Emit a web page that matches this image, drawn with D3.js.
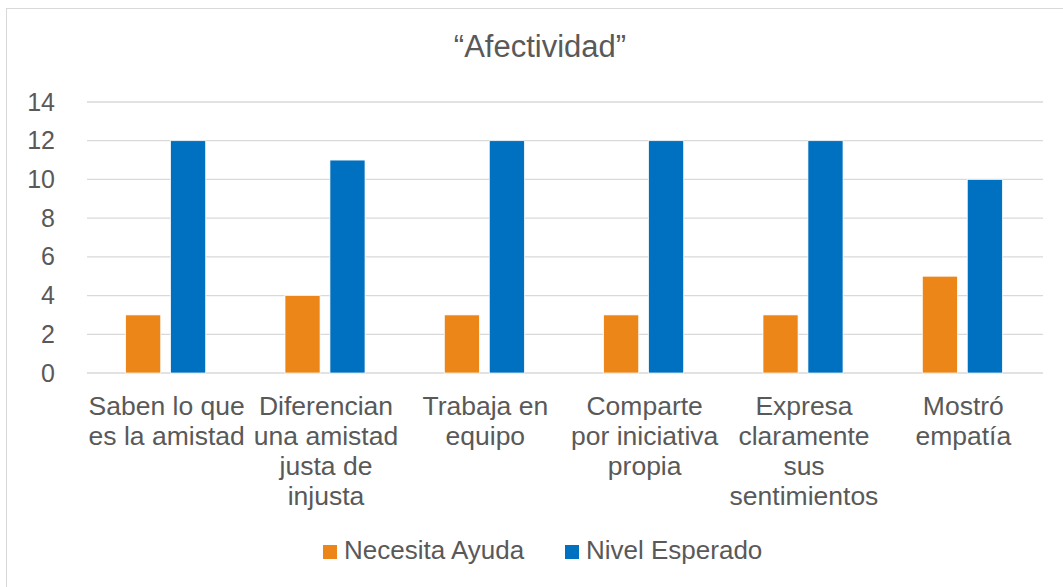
<!DOCTYPE html>
<html>
<head>
<meta charset="utf-8">
<script src="https://cdn.jsdelivr.net/npm/d3@7"></script>
<style>
  body { margin: 0; background: #fff; }
  svg text { font-family: "Liberation Sans", Arial, sans-serif; fill: #595959; }
</style>
</head>
<body>
<div id="chart-area"></div>
<script>
const categories = [
  ["Saben lo que", "es la amistad"],
  ["Diferencian", "una amistad", "justa de", "injusta"],
  ["Trabaja en", "equipo"],
  ["Comparte", "por iniciativa", "propia"],
  ["Expresa", "claramente", "sus", "sentimientos"],
  ["Mostró", "empatía"]
]
const seriesNames = ["Necesita Ayuda", "Nivel Esperado"]
const necesitaAyuda = [3, 4, 3, 3, 3, 5]
const nivelEsperado = [12, 11, 12, 12, 12, 10]
const yTicks = [0, 2, 4, 6, 8, 10, 12, 14]
const colors = ["#EC8619", "#0070C0"]

const w = 1063
const h = 587
const plotLeft = 87, plotRight = 1043, plotTop = 102, plotBottom = 373

const svg = d3.select("#chart-area")
  .append("svg")
  .attr("width", w)
  .attr("height", h)

svg.append("rect")
  .attr("x", 6.5)
  .attr("y", 8.5)
  .attr("width", w)
  .attr("height", h)
  .attr("fill", "none")
  .attr("stroke", "#d9d9d9")

svg.append("text")
  .attr("x", 540)
  .attr("y", 57)
  .attr("text-anchor", "middle")
  .style("font-size", "31px")
  .text("“Afectividad”")

const yScale = d3.scaleLinear()
  .domain([0, 14])
  .range([plotBottom, plotTop])

const xScale = d3.scaleBand()
  .domain(d3.range(categories.length))
  .range([plotLeft, plotRight])

const x1 = d3.scaleBand()
  .domain([0, 1])
  .range([0, 80])
  .paddingInner(0.22)

// gridlines
svg.append("g")
  .selectAll("line")
  .data(yTicks)
  .enter()
  .append("line")
  .attr("x1", plotLeft)
  .attr("x2", plotRight)
  .attr("y1", (d) => yScale(d))
  .attr("y2", (d) => yScale(d))
  .attr("stroke", "#d9d9d9")
  .attr("stroke-width", 1.3)

const yAxis = d3.axisLeft(yScale)
  .tickValues(yTicks)
  .tickSize(0)
  .tickPadding(0)

svg.append("g")
  .attr("transform", "translate(55,0)")
  .call(yAxis)
  .call((g) => g.select(".domain").remove())
  .selectAll("text")
  .style("font-size", "25px")
  .style("font-family", "Liberation Sans, Arial, sans-serif")
  .attr("fill", "#595959")

const rows = categories.map((c, i) => ({ i: i, values: [necesitaAyuda[i], nivelEsperado[i]] }))

const groups = svg.append("g")
  .selectAll("g")
  .data(rows)
  .enter()
  .append("g")
  .attr("transform", (d) => "translate(" + (xScale(d.i) + xScale.bandwidth() / 2 - 41) + ",0)")

groups.selectAll("rect")
  .data((d) => d.values)
  .enter()
  .append("rect")
  .attr("x", (d, j) => x1(j))
  .attr("y", (d) => yScale(d))
  .attr("width", x1.bandwidth())
  .attr("height", (d) => yScale(0) - yScale(d))
  .attr("fill", (d, j) => colors[j])
  .attr("stroke", "#fff")
  .attr("stroke-width", 0.7)

// category labels
const labels = svg.append("g")
  .selectAll("text")
  .data(categories)
  .enter()
  .append("text")
  .attr("text-anchor", "middle")
  .style("font-size", "26.5px")

labels.selectAll("tspan")
  .data((d, i) => d.map((line) => ({ line: line, i: i })))
  .enter()
  .append("tspan")
  .attr("x", (d) => xScale(d.i) + xScale.bandwidth() / 2)
  .attr("y", (d, k) => 415 + k * 30)
  .text((d) => d.line)

// legend
const legendX = [323, 565]
const legend = svg.append("g")
  .selectAll("g")
  .data(seriesNames)
  .enter()
  .append("g")
  .attr("transform", (d, i) => "translate(" + legendX[i] + ",545)")

legend.append("rect")
  .attr("width", 14)
  .attr("height", 14)
  .attr("fill", (d, i) => colors[i])

legend.append("text")
  .attr("x", 21)
  .attr("y", 14)
  .style("font-size", "26px")
  .text((d) => d)
</script>
</body>
</html>
